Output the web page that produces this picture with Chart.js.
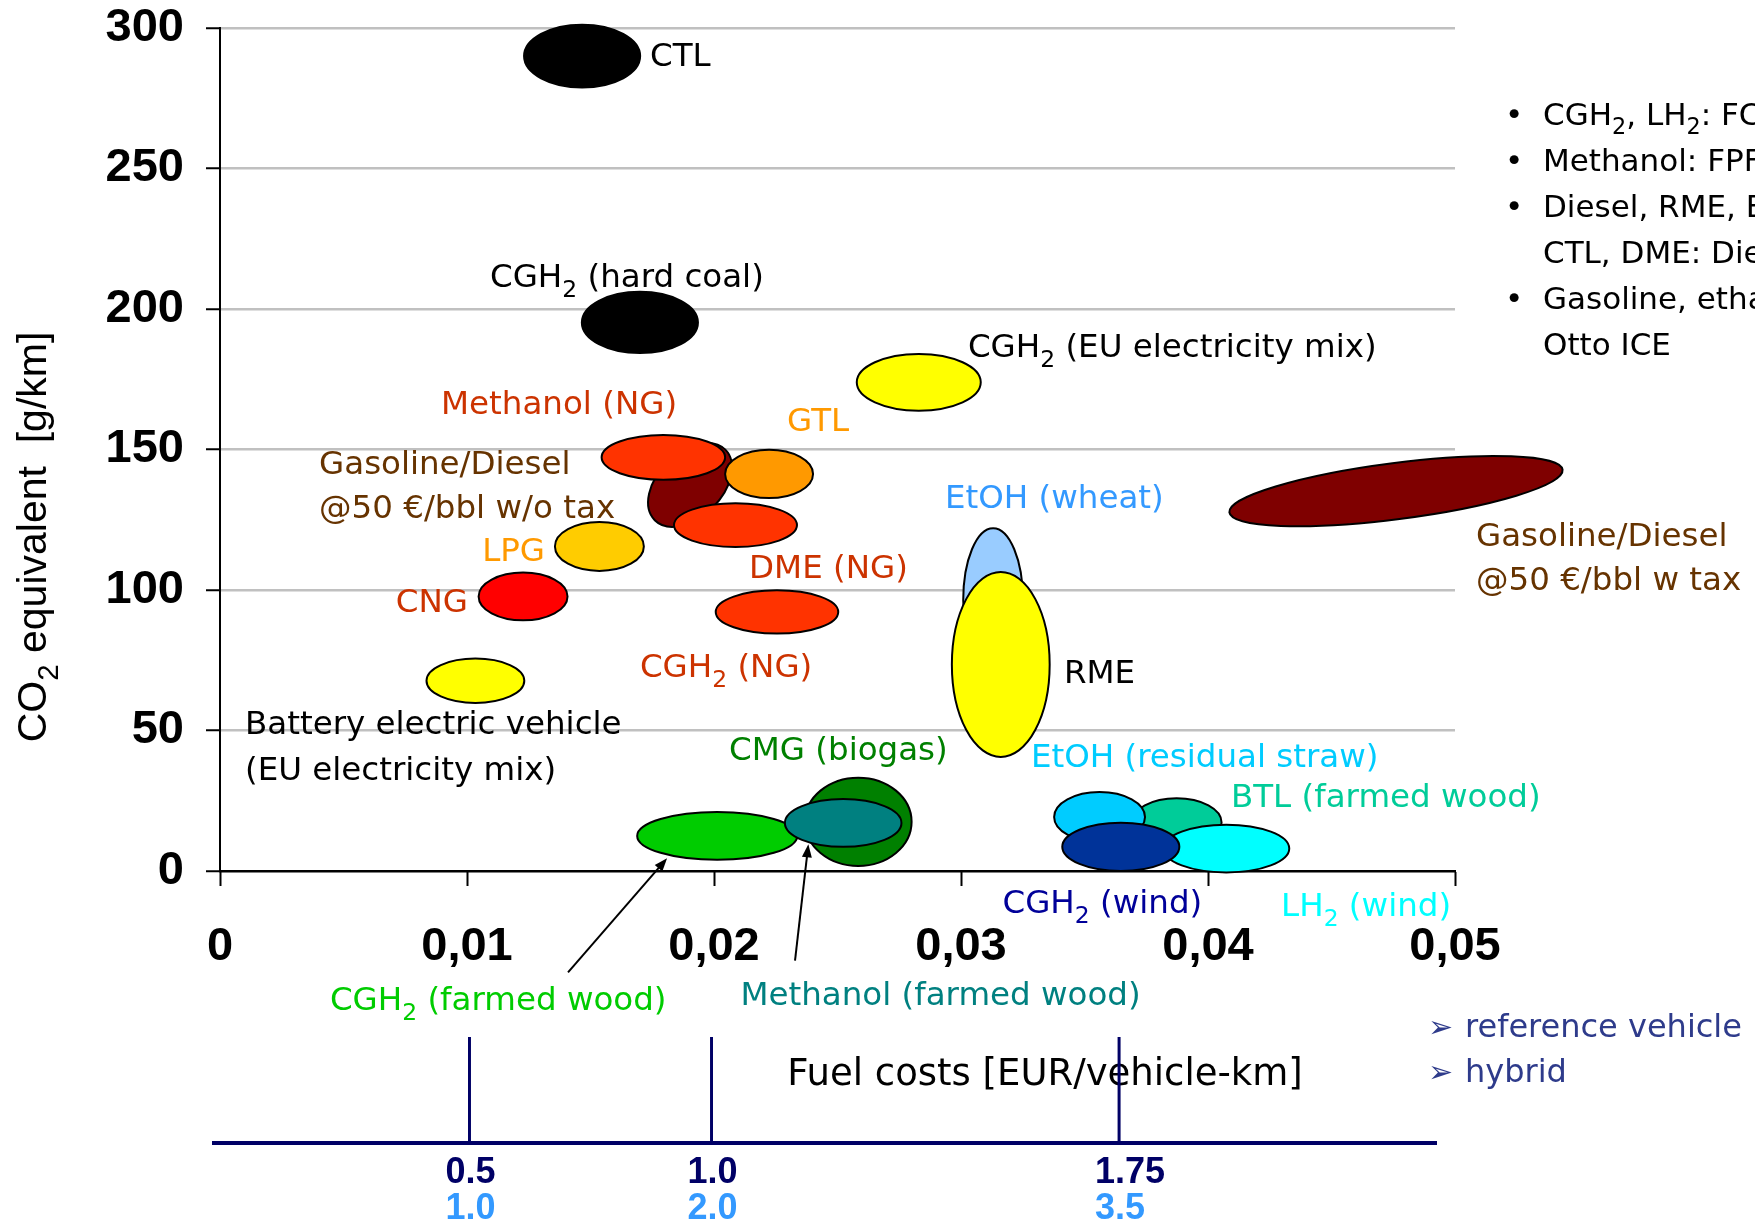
<!DOCTYPE html>
<html>
<head>
<meta charset="utf-8">
<script src="https://cdn.jsdelivr.net/npm/chart.js@4.4.0/dist/chart.umd.min.js"></script>
<style>
html,body{margin:0;padding:0;background:#fff;overflow:hidden}
canvas{display:block}
</style>
</head>
<body>
<canvas id="c" width="1755" height="1222"></canvas>
<script>
// ---------------- DATA ----------------
const fuels = ['CTL','CGH2 (hard coal)','CGH2 (EU electricity mix)','Gasoline/Diesel @50 €/bbl w/o tax',
  'Methanol (NG)','GTL','DME (NG)','CGH2 (NG)','LPG','CNG','Battery electric vehicle (EU electricity mix)',
  'Gasoline/Diesel @50 €/bbl w tax','EtOH (wheat)','RME','CMG (biogas)','CGH2 (farmed wood)',
  'Methanol (farmed wood)','BTL (farmed wood)','EtOH (residual straw)','LH2 (wind)','CGH2 (wind)'];
// centre of each range: fuel cost [EUR/vehicle-km]
const fuelCost = [0.01466,0.0170,0.02829,0.01903,0.01795,0.02223,0.02087,0.02255,0.01536,0.01227,0.01034,
  0.04761,0.03130,0.03161,0.02584,0.02013,0.02523,0.03873,0.03561,0.04074,0.03647];
// centre of each range: CO2 equivalent [g/km]
const co2 = [290,195.2,173.9,137.4,147.2,141.3,123.1,92.2,115.5,97.7,67.7,
  135.2,96.4,73.5,17.5,12.5,17.1,17.3,19.2,8.0,8.6];
// half ranges (uncertainty) in cost and CO2
const costHalfRange = [0.00235,0.00235,0.00251,0.00202,0.0025,0.00178,0.00249,0.00248,0.0018,0.0018,0.00198,
  0.0068,0.00121,0.00198,0.00216,0.00324,0.00236,0.00182,0.00184,0.00255,0.00237];
const co2HalfRange = [11.2,10.9,10.1,11.4,8.0,8.6,7.8,7.7,8.7,8.5,7.9,
  10.0,25.6,32.9,15.7,8.5,8.5,8.6,8.9,8.5,8.6];
const tiltDeg = [0,0,0,-45,0,0,0,0,0,0,0,-7.3,0,0,0,0,0,0,0,0,0];

const xTickValues = [0,0.01,0.02,0.03,0.04,0.05];
const yTickValues = [0,50,100,150,200,250,300];

// secondary scale: fuel price equivalents
const refVehicleTicks = ['0.5','1.0','1.75'];
const hybridTicks = ['1.0','2.0','3.5'];
const tickCostEquivalent = [0.0101,0.0199,0.0364];

// ---------------- STYLES ----------------
const fuelColors = ['#000000','#000000','#FFFF00','#7F0000','#FF3300','#FF9900','#FF3300','#FF3300','#FFCC00',
  '#FF0000','#FFFF00','#7F0000','#99CCFF','#FFFF00','#008000','#00CC00','#008080','#00CC99','#00CCFF',
  '#00FFFF','#003399'];

const LBL = "'DejaVu Sans', sans-serif";
const ARIAL = "'Liberation Sans', Arial, sans-serif";
const labels = [
  {t:'CTL', x:0.01741, y:286.6, c:'#000000'},
  {t:'CGH_2 (hard coal)', x:0.01093, y:207.9, c:'#000000'},
  {t:'CGH_2 (EU electricity mix)', x:0.03028, y:183.0, c:'#000000'},
  {t:'Methanol (NG)', x:0.00895, y:162.6, c:'#CC3300'},
  {t:'GTL', x:0.02296, y:156.6, c:'#FF9900'},
  {t:'Gasoline/Diesel', x:0.00401, y:141.3, c:'#663300'},
  {t:'@50 €/bbl w/o tax', x:0.00401, y:125.6, c:'#663300'},
  {t:'LPG', x:0.01316, y:110.3, c:'#FF9900', a:'right'},
  {t:'CNG', x:0.01004, y:92.1, c:'#CC3300', a:'right'},
  {t:'DME (NG)', x:0.02142, y:104.3, c:'#CC3300'},
  {t:'CGH_2 (NG)', x:0.0170, y:69.0, c:'#CC3300'},
  {t:'Battery electric vehicle', x:0.00101, y:48.7, c:'#000000'},
  {t:'(EU electricity mix)', x:0.00101, y:32.3, c:'#000000'},
  {t:'EtOH (wheat)', x:0.02935, y:129.2, c:'#3399FF'},
  {t:'RME', x:0.03417, y:66.8, c:'#000000'},
  {t:'Gasoline/Diesel', x:0.05085, y:115.6, c:'#663300'},
  {t:'@50 €/bbl w tax', x:0.05085, y:100.0, c:'#663300'},
  {t:'CMG (biogas)', x:0.02061, y:39.4, c:'#008000'},
  {t:'EtOH (residual straw)', x:0.03283, y:37.0, c:'#00CCFF'},
  {t:'BTL (farmed wood)', x:0.04093, y:22.7, c:'#00CC99'},
  {t:'CGH_2 (wind)', x:0.03168, y:-15.1, c:'#000099'},
  {t:'LH_2 (wind)', x:0.04296, y:-16.1, c:'#00FFFF'},
  {t:'CGH_2 (farmed wood)', x:0.00445, y:-49.6, c:'#00CC00'},
  {t:'Methanol (farmed wood)', x:0.02107, y:-47.8, c:'#008080'}
];
const arrows = [
  {from:[0.01409,-36.1], to:[0.0181,4.5]},
  {from:[0.02328,-31.9], to:[0.02382,9.5]}
];
const notes = [
  {t:'CGH_2, LH_2: FC vehicle', b:true, y:125},
  {t:'Methanol: FPFC vehicle', b:true, y:171},
  {t:'Diesel, RME, BTL, GTL,', b:true, y:217},
  {t:'CTL, DME: Diesel ICE', b:false, y:263},
  {t:'Gasoline, ethanol, CNG, LPG:', b:true, y:309},
  {t:'Otto ICE', b:false, y:355}
];

// ---------------- HELPERS ----------------
function drawRich(ctx, text, x, y, size, family, weight, color, align) {
  const parts = [];
  const re = /_(\d)/g; let last = 0, m;
  while ((m = re.exec(text))) {
    if (m.index > last) parts.push({t:text.slice(last, m.index), sub:false});
    parts.push({t:m[1], sub:true}); last = re.lastIndex;
  }
  if (last < text.length) parts.push({t:text.slice(last), sub:false});
  const f = s => `${weight} ${s}px ${family}`;
  let w = 0;
  parts.forEach(p => { ctx.font = f(p.sub ? size*0.72 : size); p.w = ctx.measureText(p.t).width; w += p.w; });
  let cx = align === 'right' ? x - w : align === 'center' ? x - w/2 : x;
  ctx.fillStyle = color; ctx.textBaseline = 'alphabetic'; ctx.textAlign = 'left';
  parts.forEach(p => { ctx.font = f(p.sub ? size*0.72 : size); ctx.fillText(p.t, cx, y + (p.sub ? size*0.3 : 0)); cx += p.w; });
}

class EllipseController extends Chart.ScatterController {
  draw() {
    const meta = this._cachedMeta;
    const ctx = this.chart.ctx;
    const xs = meta.xScale, ys = meta.yScale;
    const ds = this.getDataset();
    ctx.save();
    ds.data.forEach((d, i) => {
      const cx = xs.getPixelForValue(d.x), cy = ys.getPixelForValue(d.y);
      const rx = Math.abs(xs.getPixelForValue(d.x + d.rx) - cx);
      const ry = Math.abs(ys.getPixelForValue(d.y + d.ry) - cy);
      ctx.beginPath();
      ctx.ellipse(cx, cy, rx, ry, (d.tilt || 0) * Math.PI / 180, 0, Math.PI * 2);
      ctx.fillStyle = ds.backgroundColor[i];
      ctx.fill();
      ctx.lineWidth = ds.borderWidth;
      ctx.strokeStyle = ds.borderColor;
      ctx.stroke();
    });
    ctx.restore();
  }
}
EllipseController.id = 'ellipse';
EllipseController.defaults = Object.assign({}, Chart.ScatterController.defaults);
Chart.register(EllipseController);

const annotations = {
  id: 'annotations',
  afterDraw(chart) {
    const ctx = chart.ctx;
    const xs = chart.scales.x, ys = chart.scales.y;
    ctx.save();
    // labels
    labels.forEach(l => drawRich(ctx, l.t, xs.getPixelForValue(l.x), ys.getPixelForValue(l.y), 32.5, LBL, 'normal', l.c, l.a || 'left'));
    // arrows
    ctx.strokeStyle = '#000'; ctx.fillStyle = '#000'; ctx.lineWidth = 2;
    arrows.forEach(a => {
      const x1 = xs.getPixelForValue(a.from[0]), y1 = ys.getPixelForValue(a.from[1]);
      const x2 = xs.getPixelForValue(a.to[0]), y2 = ys.getPixelForValue(a.to[1]);
      const ang = Math.atan2(y2 - y1, x2 - x1), hl = 13, hw = 5;
      ctx.beginPath(); ctx.moveTo(x1, y1);
      ctx.lineTo(x2 - Math.cos(ang) * hl * 0.8, y2 - Math.sin(ang) * hl * 0.8); ctx.stroke();
      ctx.beginPath(); ctx.moveTo(x2, y2);
      ctx.lineTo(x2 - Math.cos(ang) * hl - Math.sin(ang) * hw, y2 - Math.sin(ang) * hl + Math.cos(ang) * hw);
      ctx.lineTo(x2 - Math.cos(ang) * hl + Math.sin(ang) * hw, y2 - Math.sin(ang) * hl - Math.cos(ang) * hw);
      ctx.closePath(); ctx.fill();
    });
    // y axis title
    ctx.save();
    ctx.translate(46, 537); ctx.rotate(-Math.PI / 2);
    drawRich(ctx, 'CO_2 equivalent  [g/km]', 0, 0, 41, ARIAL, 'normal', '#000', 'center');
    ctx.restore();
    // x axis title
    drawRich(ctx, 'Fuel costs [EUR/vehicle-km]', 1045, 1085, 37, LBL, 'normal', '#000', 'center');
    // secondary scale
    const navy = '#000066';
    ctx.strokeStyle = navy; ctx.lineWidth = 4;
    ctx.beginPath(); ctx.moveTo(xs.left - 8, 1143); ctx.lineTo(xs.right - 18, 1143); ctx.stroke();
    ctx.lineWidth = 3;
    tickCostEquivalent.forEach((v, i) => {
      const px = xs.getPixelForValue(v);
      ctx.beginPath(); ctx.moveTo(px, 1037); ctx.lineTo(px, 1143); ctx.stroke();
      drawRich(ctx, refVehicleTicks[i], px - 24, 1183, 36, ARIAL, 'bold', navy, 'left');
      drawRich(ctx, hybridTicks[i], px - 24, 1219, 36, ARIAL, 'bold', '#3399FF', 'left');
    });
    // legend of secondary scale
    const lc = '#2E3B8B';
    drawRich(ctx, '➢', 1428, 1037, 30, LBL, 'normal', lc, 'left');
    drawRich(ctx, 'reference vehicle', 1465, 1037, 32, LBL, 'normal', lc, 'left');
    drawRich(ctx, '➢', 1428, 1082, 30, LBL, 'normal', lc, 'left');
    drawRich(ctx, 'hybrid', 1465, 1082, 32, LBL, 'normal', lc, 'left');
    // notes
    notes.forEach(n => {
      if (n.b) drawRich(ctx, '•', 1505, n.y, 31, LBL, 'normal', '#000', 'left');
      drawRich(ctx, n.t, 1543, n.y, 31, LBL, 'normal', '#000', 'left');
    });
    ctx.restore();
  }
};

const points = fuels.map((f, i) => ({x: fuelCost[i], y: co2[i], rx: costHalfRange[i], ry: co2HalfRange[i], tilt: tiltDeg[i], name: f}));

const tickFont = {family: ARIAL, weight: 'bold', size: 47};

new Chart(document.getElementById('c'), {
  type: 'scatter',
  data: {
    datasets: [{
      type: 'ellipse',
      label: 'Fuels',
      data: points,
      backgroundColor: fuelColors,
      borderColor: '#000000',
      borderWidth: 2,
      pointRadius: 0,
      clip: false
    }]
  },
  options: {
    responsive: false,
    animation: false,
    devicePixelRatio: 1,
    layout: {padding: {left: 0, right: 300, top: 28, bottom: 0}},
    plugins: {legend: {display: false}, tooltip: {enabled: false}},
    scales: {
      x: {
        type: 'linear', min: 0, max: 0.05, position: 'bottom',
        afterBuildTicks: s => { s.ticks = xTickValues.map(v => ({value: v})); },
        afterFit: s => { s.height = 351; s.paddingLeft = 0; s.paddingRight = 0; },
        ticks: {
          font: tickFont, color: '#000', padding: 33, maxRotation: 0, autoSkip: false,
          callback: v => v === 0 ? '0' : v.toFixed(2).replace('.', ',')
        },
        grid: {drawOnChartArea: false, drawTicks: true, tickLength: 15, tickColor: '#000', tickWidth: 2},
        border: {color: '#000', width: 2}
      },
      y: {
        type: 'linear', min: 0, max: 300,
        afterBuildTicks: s => { s.ticks = yTickValues.map(v => ({value: v})); },
        afterFit: s => { s.width = 220; s.paddingTop = 0; s.paddingBottom = 0; },
        ticks: {font: tickFont, color: '#000', padding: 22},
        grid: {
          color: c => (c.tick && c.tick.value === 0) ? '#000' : '#C0C0C0',
          lineWidth: 2.5, tickColor: '#000', tickLength: 14, tickWidth: 2
        },
        border: {color: '#000', width: 2}
      }
    }
  },
  plugins: [annotations]
});
</script>
</body>
</html>
